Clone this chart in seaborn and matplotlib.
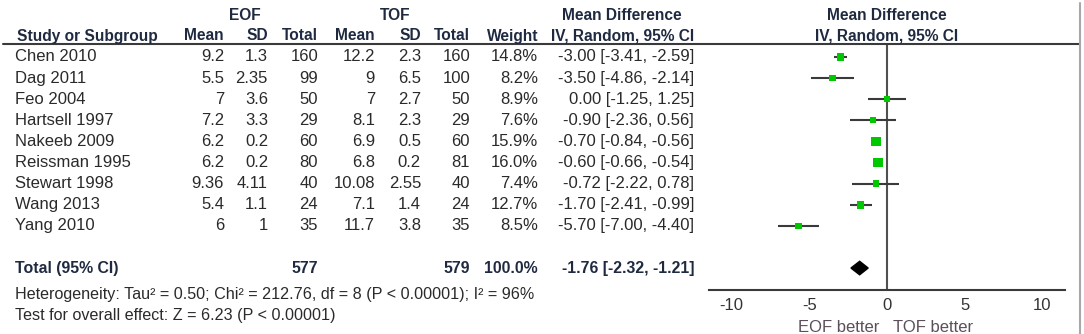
import numpy as np
import pandas as pd
import seaborn as sns
import matplotlib.pyplot as plt
from matplotlib.lines import Line2D
from matplotlib.transforms import blended_transform_factory

# data
studies = ["Chen 2010", "Dag 2011", "Feo 2004", "Hartsell 1997", "Nakeeb 2009",
           "Reissman 1995", "Stewart 1998", "Wang 2013", "Yang 2010"]
eof_mean = [9.2, 5.5, 7, 7.2, 6.2, 6.2, 9.36, 5.4, 6]
eof_sd = [1.3, 2.35, 3.6, 3.3, 0.2, 0.2, 4.11, 1.1, 1]
eof_n = [160, 99, 50, 29, 60, 80, 40, 24, 35]
tof_mean = [12.2, 9, 7, 8.1, 6.9, 6.8, 10.08, 7.1, 11.7]
tof_sd = [2.3, 6.5, 2.7, 2.3, 0.5, 0.2, 2.55, 1.4, 3.8]
tof_n = [160, 100, 50, 29, 60, 81, 40, 24, 35]
weight = [14.8, 8.2, 8.9, 7.6, 15.9, 16.0, 7.4, 12.7, 8.5]
md = [-3.00, -3.50, 0.00, -0.90, -0.70, -0.60, -0.72, -1.70, -5.70]
ci_lo = [-3.41, -4.86, -1.25, -2.36, -0.84, -0.66, -2.22, -2.41, -7.00]
ci_hi = [-2.59, -2.14, 1.25, 0.56, -0.56, -0.54, 0.78, -0.99, -4.40]

total_eof = 577
total_tof = 579
total_md = -1.76
total_lo = -2.32
total_hi = -1.21
heterogeneity = "Heterogeneity: Tau\u00b2 = 0.50; Chi\u00b2 = 212.76, df = 8 (P < 0.00001); I\u00b2 = 96%"
overall = "Test for overall effect: Z = 6.23 (P < 0.00001)"

# marker sizes (points) as drawn in the picture
box_size = [5.5, 4.5, 4.5, 4.5, 7, 7, 4.5, 5.5, 4.5]

sns.set_style("white")
plt.rcParams['font.family'] = ['Liberation Sans', 'DejaVu Sans']
plt.rcParams['axes.unicode_minus'] = False

W, H = 1084, 334
fig = plt.figure(figsize=(W / 100, H / 100), dpi=100)

def fx(px):
    return px / W

def fy(py):
    return 1 - py / H

ax = fig.add_axes([fx(709), fy(290), fx(1065) - fx(709), fy(43) - fy(290)])

df = pd.DataFrame({"study": studies, "md": md, "lo": ci_lo, "hi": ci_hi,
                   "row": np.arange(len(studies))})

dark = "#3a3a3a"
ax.hlines(df["row"], df["lo"], df["hi"], color=dark, lw=1.5, zorder=2)
sns.scatterplot(data=df, x="md", y="row", marker="s", color="#00c800",
                s=np.array(box_size) ** 2, edgecolor="none", zorder=3, ax=ax)

# pooled diamond
total_row = len(studies) + 1
ax.fill([total_lo, total_md, total_hi, total_md],
        [total_row, total_row - 0.32, total_row, total_row + 0.32],
        color="black", zorder=3)

ax.axvline(0, color="#505050", lw=1.5, zorder=1)
ax.set_xlim(-11.45, 11.45)
ax.set_ylim(11.04, -0.66)
ax.set_yticks([])
ax.set_xticks([-10, -5, 0, 5, 10])
ax.set_xlabel("")
ax.set_ylabel("")
for s in ["top", "left", "right"]:
    ax.spines[s].set_visible(False)
ax.spines["bottom"].set_color(dark)
ax.spines["bottom"].set_linewidth(1.5)
ax.tick_params(axis="x", direction="inout", length=9, width=1.5, color=dark,
               labelsize=12, labelcolor="#333333", pad=1)

tb = blended_transform_factory(ax.transData, ax.transAxes)
ax.text(-0.5, -0.15, "EOF better", transform=tb, ha="right", va="center",
        fontsize=12, color="#5a4f5a")
ax.text(0.4, -0.15, "TOF better", transform=tb, ha="left", va="center",
        fontsize=12, color="#5a4f5a")

# table text, rows aligned with the plot rows
tr = blended_transform_factory(fig.transFigure, ax.transData)
txt = "#2a2a2a"
hdr = "#1f2a40"

def cell(px, row, s, ha="right", bold=False, color=txt, size=12):
    fig.text(fx(px), row, s, transform=tr, ha=ha, va="center",
             fontsize=11.4 if bold else size, color=color,
             fontweight="bold" if bold else "normal", clip_on=False)

for i in range(len(studies)):
    cell(15, i, studies[i], ha="left")
    cell(224, i, f"{eof_mean[i]:g}")
    cell(268, i, f"{eof_sd[i]:g}")
    cell(318, i, f"{eof_n[i]}")
    cell(375, i, f"{tof_mean[i]:g}")
    cell(421, i, f"{tof_sd[i]:g}")
    cell(470, i, f"{tof_n[i]}")
    cell(538, i, f"{weight[i]:.1f}%")
    cell(694, i, f"{md[i]:.2f} [{ci_lo[i]:.2f}, {ci_hi[i]:.2f}]")

cell(15, total_row, "Total (95% CI)", ha="left", bold=True, color=hdr)
cell(318, total_row, f"{total_eof}", bold=True, color=hdr)
cell(470, total_row, f"{total_tof}", bold=True, color=hdr)
cell(538, total_row, f"{sum(weight):.1f}%", bold=True, color=hdr)
cell(694, total_row, f"{total_md:.2f} [{total_lo:.2f}, {total_hi:.2f}]", bold=True, color=hdr)
cell(15, total_row + 1.23, heterogeneity, ha="left", size=11.6)
cell(15, total_row + 2.23, overall, ha="left", size=11.6)

# header
def head(px, py, s, ha="center"):
    fig.text(fx(px), fy(py), s, ha=ha, va="center", fontsize=11.2,
             fontweight="bold", color=hdr)

head(245, 15, "EOF")
head(395, 15, "TOF")
head(622, 15, "Mean Difference")
head(887, 15, "Mean Difference")
head(17, 36, "Study or Subgroup", ha="left")
head(224, 36, "Mean", ha="right")
head(268, 36, "SD", ha="right")
head(318, 36, "Total", ha="right")
head(375, 36, "Mean", ha="right")
head(421, 36, "SD", ha="right")
head(470, 36, "Total", ha="right")
head(538, 36, "Weight", ha="right")
head(694, 36, "IV, Random, 95% CI", ha="right")
head(887, 36, "IV, Random, 95% CI")

fig.add_artist(Line2D([fx(3), fx(1080)], [fy(43.5), fy(43.5)], color=dark, lw=1.5))
fig.add_artist(Line2D([fx(1080), fx(1080)], [fy(3), fy(334)], color="#a8a8a8", lw=1.5))

fig.savefig("out.png", dpi=100)
